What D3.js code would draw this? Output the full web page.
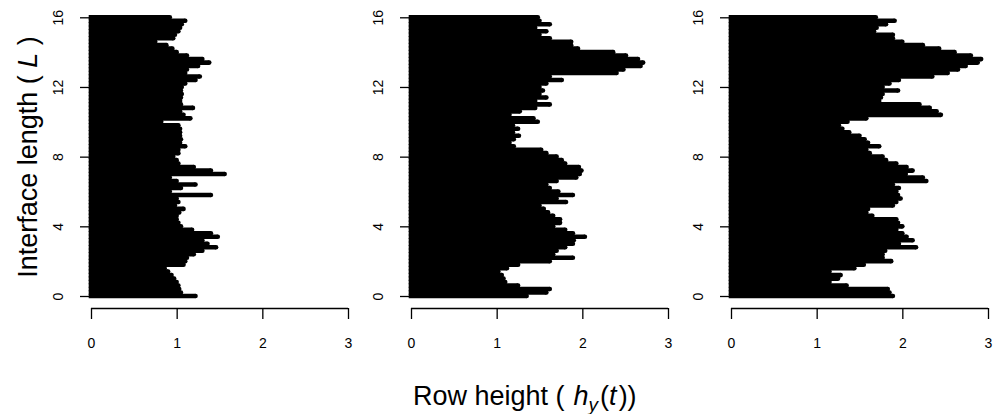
<!DOCTYPE html>
<html lang="en">
<head>
<meta charset="UTF-8">
<title>row heights</title>
<script src="https://cdn.jsdelivr.net/npm/d3@7"></script>
<style>
  body { margin: 0; background: #fff; }
  text { font-family: "Liberation Sans", Arial, sans-serif; }
</style>
</head>
<body>
<div id="chart"></div>
<script>
// interface length positions, step 0.2 from 0 to 16
var lengths = d3.range(81).map(function (i) { return +(i * 0.2).toFixed(1); });

// row heights (bottom to top)
var panel1 = [1.22,1.05,1.03,1.02,1.00,0.97,0.94,0.90,0.86,1.08,
              1.10,1.12,1.20,1.30,1.46,1.36,1.30,1.48,1.40,1.18,
              1.05,1.02,1.00,1.00,1.03,1.08,0.98,1.02,1.00,1.40,
              0.92,1.05,1.22,1.00,0.92,1.56,1.40,1.20,1.02,1.00,
              0.96,1.02,1.02,1.10,1.04,1.05,1.04,1.04,1.04,1.02,
              0.82,1.16,1.08,1.04,1.19,1.05,1.04,1.05,1.06,1.05,
              1.06,1.10,1.22,1.27,1.10,1.12,1.25,1.38,1.30,1.12,
              1.00,0.95,0.88,0.75,0.96,0.98,1.02,1.04,1.06,1.10,
              0.92];
var panel2 = [1.35,1.58,1.62,1.25,1.10,1.08,1.06,1.02,1.12,1.25,
              1.62,1.89,1.66,1.70,1.80,1.89,1.90,2.03,1.89,1.80,
              1.66,1.74,1.74,1.66,1.60,1.55,1.50,1.81,1.70,1.89,
              1.72,1.62,1.58,1.70,1.93,1.97,1.99,1.96,1.80,1.76,
              1.70,1.58,1.52,1.20,1.15,1.20,1.26,1.19,1.25,1.19,
              1.48,1.43,1.15,1.27,1.45,1.62,1.45,1.58,1.50,1.54,
              1.50,1.58,1.76,1.62,2.40,2.48,2.68,2.71,2.65,2.51,
              2.36,1.95,1.87,1.87,1.62,1.50,1.58,1.45,1.62,1.50,
              1.48];
var panel3 = [1.89,1.85,1.83,1.35,1.15,1.25,1.28,1.15,1.44,1.55,
              1.87,1.77,1.77,1.80,2.16,1.96,2.12,2.05,2.00,1.93,
              2.00,1.95,1.93,1.65,1.58,1.60,1.89,1.93,1.98,1.95,
              1.93,1.96,1.89,2.28,2.24,2.04,2.12,2.05,1.93,1.81,
              1.77,1.62,1.58,1.73,1.60,1.56,1.50,1.38,1.30,1.26,
              1.36,1.58,2.45,2.40,2.32,2.20,1.73,1.75,1.77,1.95,
              1.77,1.85,1.96,2.35,2.53,2.65,2.74,2.88,2.92,2.80,
              2.61,2.43,2.24,2.00,1.89,1.89,1.67,1.70,1.81,1.91,
              1.69];
var panels = [panel1, panel2, panel3];

var xTicks = [0, 1, 2, 3];
var yTicks = [0, 4, 8, 12, 16];

var width = 999, height = 414;
var panelLeft = [91, 411, 731];
var panelW = 257;
var plotTop = 17.3, plotBottom = 296;
var lw = 4.6; // row line width

var svg = d3.select("#chart").append("svg")
    .attr("width", width)
    .attr("height", height);

var yScale = d3.scaleLinear().domain([0, 16]).range([plotBottom, plotTop]);

panels.forEach(function (vals, p) {
    var x0 = panelLeft[p];
    var xScale = d3.scaleLinear().domain([0, 3]).range([x0, x0 + panelW]);
    var g = svg.append("g");

    // one thick horizontal segment per row, flat at 0 and rounded at the tip
    g.selectAll("line.row")
        .data(vals)
        .enter()
        .append("line")
        .attr("class", "row")
        .attr("x1", xScale(0) - lw / 2)
        .attr("x2", function (d) { return xScale(d); })
        .attr("y1", function (d, i) { return yScale(lengths[i]); })
        .attr("y2", function (d, i) { return yScale(lengths[i]); })
        .attr("stroke", "#000")
        .attr("stroke-width", lw);
    g.selectAll("circle.tip")
        .data(vals)
        .enter()
        .append("circle")
        .attr("class", "tip")
        .attr("cx", function (d) { return xScale(d); })
        .attr("cy", function (d, i) { return yScale(lengths[i]); })
        .attr("r", lw / 2)
        .attr("fill", "#000");

    // x axis
    var xAxis = d3.axisBottom(xScale).tickValues(xTicks).tickSize(11).tickPadding(19).tickFormat(d3.format("d"));
    var gx = g.append("g").attr("transform", "translate(0,308)").call(xAxis);
    gx.attr("font-size", 14).attr("font-family", "Liberation Sans, Arial, sans-serif");
    gx.select(".domain").attr("stroke-width", 1.3).attr("d", "M" + xScale(0) + ",0.5H" + xScale(3));
    gx.selectAll(".tick line").attr("stroke-width", 1.3);

    // y axis (line hidden behind the rows)
    var yAxis = d3.axisLeft(yScale).tickValues(yTicks).tickSize(9).tickPadding(0).tickFormat(d3.format("d"));
    var gy = g.append("g").attr("transform", "translate(" + (x0 - 2) + ",0)").call(yAxis);
    gy.attr("font-size", 14).attr("font-family", "Liberation Sans, Arial, sans-serif");
    gy.select(".domain").remove();
    gy.selectAll(".tick line").attr("stroke-width", 1.3);
    gy.selectAll(".tick text")
        .attr("x", 0).attr("dy", null)
        .attr("text-anchor", "middle")
        .attr("transform", "translate(-26,0) rotate(-90)");
});

// axis titles
var yt = svg.append("text")
    .attr("transform", "translate(37,157) rotate(-90)")
    .attr("text-anchor", "middle")
    .attr("font-size", 27);
yt.append("tspan").text("Interface length ( ");
yt.append("tspan").attr("font-style", "italic").text("L");
yt.append("tspan").text(" )");

var xt = svg.append("text")
    .attr("x", 413)
    .attr("y", 405)
    .attr("text-anchor", "start")
    .attr("font-size", 27);
xt.append("tspan").text("Row height (");
xt.append("tspan").attr("dx", 9).attr("font-style", "italic").text("h");
xt.append("tspan").attr("font-style", "italic").attr("font-size", 19).attr("dy", 6).text("y");
xt.append("tspan").attr("dy", -6).attr("dx", 2).text("(");
xt.append("tspan").attr("font-style", "italic").text("t");
xt.append("tspan").attr("dx", 2).text("))");
</script>
</body>
</html>
